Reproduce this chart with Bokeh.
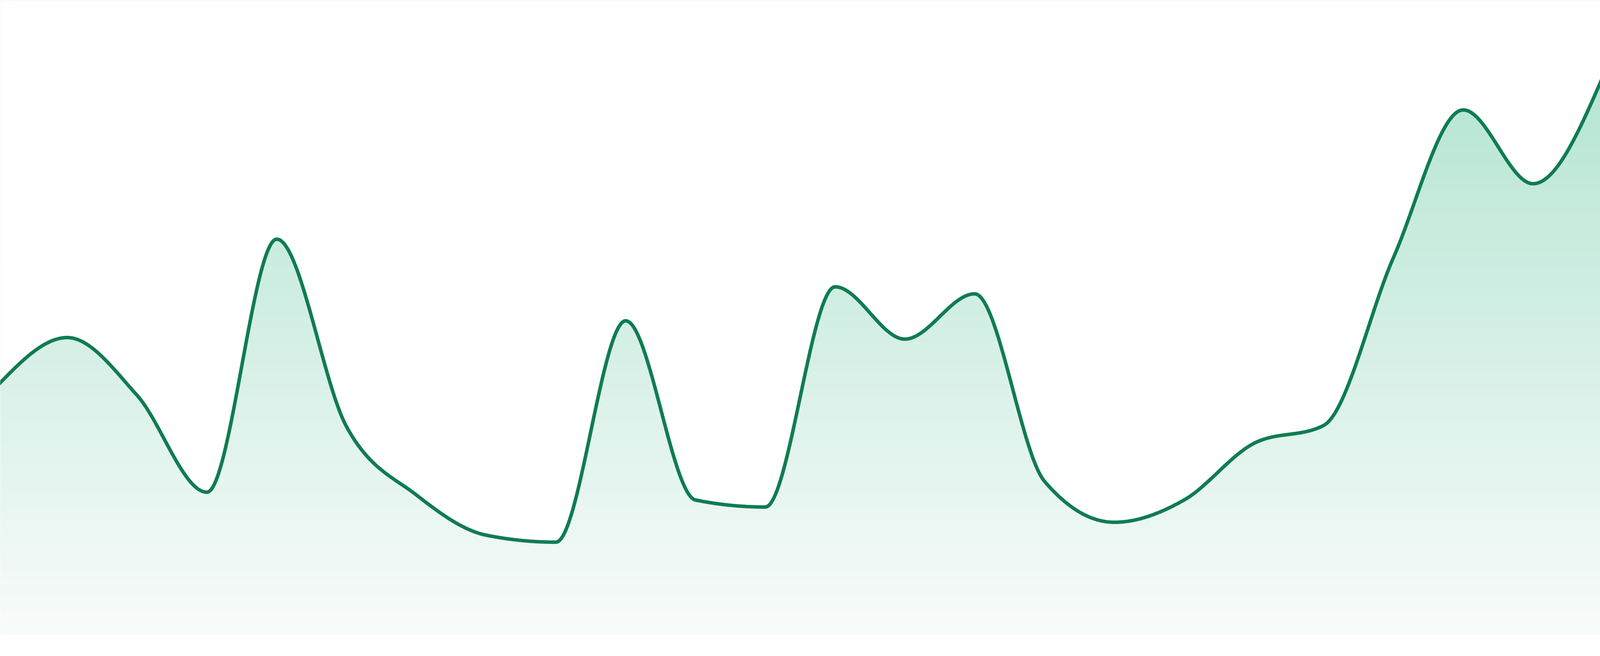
import numpy as np
from bokeh.plotting import figure
from bokeh.models import Range1d
from bokeh.embed import file_html
from bokeh.resources import INLINE

# ---- data -------------------------------------------------------------
index = list(range(24))
values = [63.8, 76.1, 61.3, 36.5, 101.3, 53.3, 35.8, 25.5, 23.7, 80.4,
          34.5, 32.7, 89.1, 75.7, 87.3, 39.3, 28.8, 34.5, 49.0, 53.6,
          96.6, 134.4, 115.5, 142.9]

LINE_COLOR = "#107C52"
GRAD_TOP = (181, 229, 211)     # colour at value GRAD_TOP_V
GRAD_BOTTOM = (248, 251, 250)  # colour at value 0
GRAD_TOP_V = 143.3


def monotone_x(xs, ys, n=48):
    """d3 curveMonotoneX rendering of the data as cubic Bezier segments."""
    xs = np.asarray(xs, float)
    ys = np.asarray(ys, float)
    m = len(xs)
    t = np.zeros(m)
    for i in range(1, m - 1):
        h0 = xs[i] - xs[i - 1]
        h1 = xs[i + 1] - xs[i]
        s0 = (ys[i] - ys[i - 1]) / h0
        s1 = (ys[i + 1] - ys[i]) / h1
        pp = (s0 * h1 + s1 * h0) / (h0 + h1)
        t[i] = (np.sign(s0) + np.sign(s1)) * min(abs(s0), abs(s1), 0.5 * abs(pp))
    h = xs[1] - xs[0]
    t[0] = (3 * (ys[1] - ys[0]) / h - t[1]) / 2
    h = xs[-1] - xs[-2]
    t[-1] = (3 * (ys[-1] - ys[-2]) / h - t[-2]) / 2
    out_x, out_y = [xs[0]], [ys[0]]
    u = np.linspace(0, 1, n + 1)[1:]
    for i in range(m - 1):
        dx = (xs[i + 1] - xs[i]) / 3
        P0 = (xs[i], ys[i])
        P1 = (xs[i] + dx, ys[i] + dx * t[i])
        P2 = (xs[i + 1] - dx, ys[i + 1] - dx * t[i + 1])
        P3 = (xs[i + 1], ys[i + 1])
        a = (1 - u) ** 3
        b = 3 * (1 - u) ** 2 * u
        c = 3 * (1 - u) * u ** 2
        d = u ** 3
        out_x.extend(a * P0[0] + b * P1[0] + c * P2[0] + d * P3[0])
        out_y.extend(a * P0[1] + b * P1[1] + c * P2[1] + d * P3[1])
    return np.array(out_x), np.array(out_y)


cx, cy = monotone_x(index, values)

W, H = 4784, 1664
step = 4800 / 23.0
p = figure(width=W, height=H, sizing_mode="stretch_width",
           x_range=Range1d(8 / step, 4792 / step),
           y_range=Range1d(-3.9, 162.5),
           output_backend="svg", toolbar_location=None, min_border=0)
p.axis.visible = False
p.grid.visible = False
p.outline_line_color = None
p.background_fill_color = "white"
p.border_fill_color = "white"

# gradient fill: horizontal bands, then mask above the curve with white
band = 0.5
lows = np.arange(0, 163.5, band)
cols = []
for lo in lows:
    f = min(max((lo + band / 2) / GRAD_TOP_V, 0), 1.2)
    c = [int(round(GRAD_BOTTOM[k] + (GRAD_TOP[k] - GRAD_BOTTOM[k]) * f)) for k in range(3)]
    c = [min(255, max(0, v)) for v in c]
    cols.append("#%02x%02x%02x" % tuple(c))
p.quad(left=index[0], right=index[-1], bottom=lows, top=lows + band + 0.05,
       fill_color=cols, line_color=None)

p.varea(x=cx, y1=cy, y2=170, fill_color="white")

p.line(cx, cy, line_color=LINE_COLOR, line_width=9,
       line_cap="round", line_join="round")

open("out.html", "w").write(file_html(p, INLINE))
